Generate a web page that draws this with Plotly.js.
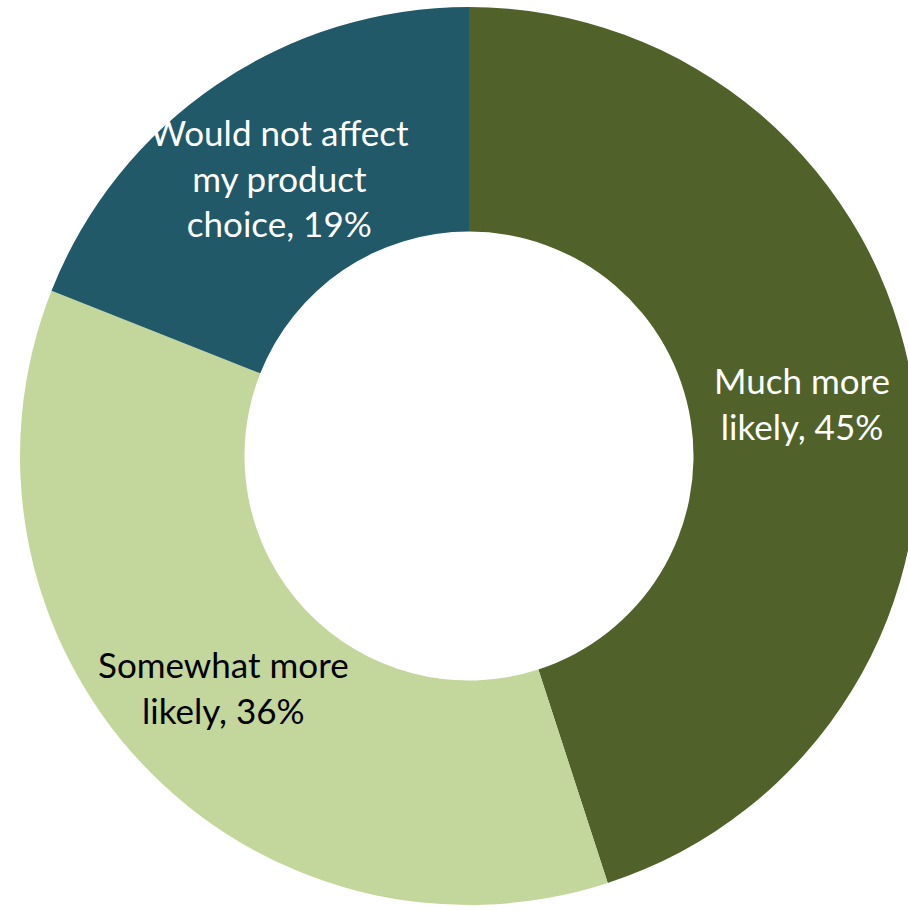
<!DOCTYPE html>
<html>
<head>
<meta charset="utf-8">
<script src="https://cdn.plot.ly/plotly-3.0.1.min.js"></script>
<style>
html, body { margin: 0; padding: 0; overflow: hidden; background: #ffffff; }
#chart { width: 938px; height: 911px; }
</style>
</head>
<body>
<div id="chart"></div>
<script>
const categories = ["Much more<br>likely", "Somewhat more<br>likely", "Would not affect<br>my product<br>choice"];
const shares = [45, 36, 19];
const sliceColors = ["#50622A", "#C3D69B", "#215968"];
const textColors = ["#ffffff", "#000000", "#ffffff"];

const W = 938, H = 911;
const domY = [6 / 911, 904 / 911];
const hole = 0.5;

// pie geometry (same as Plotly's: radius = half of the smaller domain side)
const domWpx = W, domHpx = (domY[1] - domY[0]) * H;
const R = Math.min(domWpx, domHpx) / 2;
const cxPaper = 0.5, cyPaper = (domY[0] + domY[1]) / 2;
const rMid = R * (1 + hole) / 2;

const total = shares.reduce((a, b) => a + b, 0);
let cum = 0;
const annotations = shares.map((v, i) => {
  const mid = (cum + v / 2) / total * 2 * Math.PI;
  cum += v;
  const pct = Math.round(v / total * 100);
  return {
    xref: "paper", yref: "paper",
    x: cxPaper + rMid * Math.sin(mid) / W,
    y: cyPaper + rMid * Math.cos(mid) / H,
    xanchor: "center", yanchor: "middle",
    showarrow: false,
    align: "center",
    text: categories[i] + ", " + pct + "%",
    font: { family: "Lato, sans-serif", size: 35, color: textColors[i] }
  };
});

const data = [{
  type: "pie",
  labels: categories,
  values: shares,
  hole: hole,
  sort: false,
  direction: "clockwise",
  rotation: 0,
  marker: { colors: sliceColors, line: { width: 0 } },
  textinfo: "none",
  hoverinfo: "none",
  domain: { x: [0, 1], y: domY }
}];

const layout = {
  width: W,
  height: H,
  margin: { l: 0, r: 0, t: 0, b: 0 },
  showlegend: false,
  paper_bgcolor: "#ffffff",
  plot_bgcolor: "#ffffff",
  annotations: annotations
};

Plotly.newPlot("chart", data, layout, { displayModeBar: false, staticPlot: true });
</script>
</body>
</html>
